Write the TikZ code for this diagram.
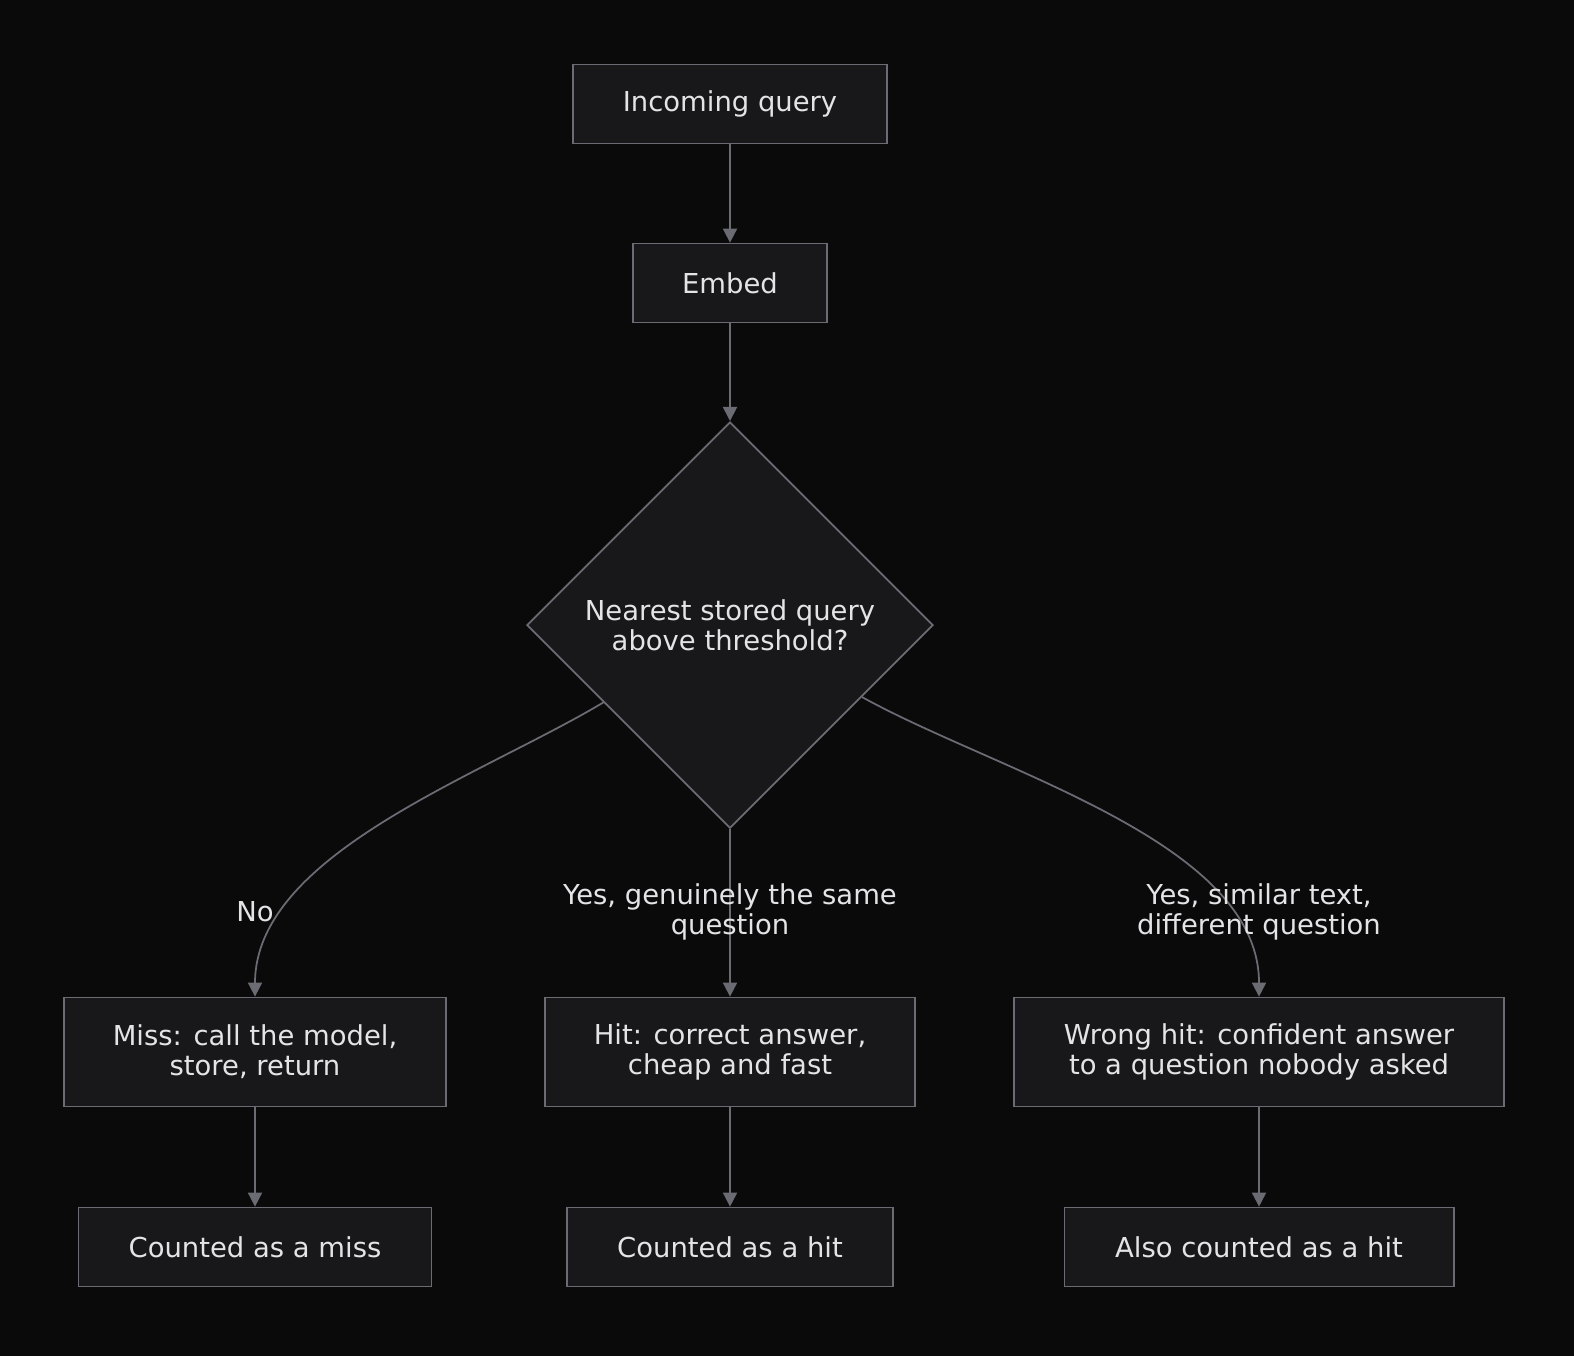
\documentclass[tikz,border=0pt]{standalone}
\usepackage{fontspec}
\setmainfont{DejaVu Sans}
\usetikzlibrary{shapes.geometric,arrows.meta}

\definecolor{bgcol}{HTML}{0A0A0B}
\definecolor{boxfill}{HTML}{18181B}
\definecolor{boxline}{HTML}{6B6B73}
\definecolor{txt}{HTML}{E4E4E7}

\tikzset{
  box/.style={draw=boxline,fill=boxfill,text=txt,line width=0.5pt,
    align=center,inner sep=0pt,font=\fontsize{7.8}{8.6}\selectfont},
  dec/.style={box,diamond,aspect=1,minimum width=4.06cm,minimum height=4.06cm},
  lbl/.style={text=txt,align=center,inner sep=0pt,font=\fontsize{7.8}{8.6}\selectfont},
  flow/.style={draw=boxline,line width=0.5pt,-{Triangle[width=4pt,length=4pt]}}
}

\begin{document}
\begin{tikzpicture}[x=0.01cm,y=-0.01cm]
\fill[bgcol] (0,0) rectangle (1574,1356);

% top chain
\node[box,minimum width=3.14cm,minimum height=0.79cm] (query) at (730,104) {Incoming query};
\node[box,minimum width=1.94cm,minimum height=0.79cm] (embed) at (730,283) {Embed};
\node[dec] (near) at (730,625) {Nearest stored query\\above threshold?};

% outcomes
\node[box,minimum width=3.82cm,minimum height=1.09cm] (miss) at (255,1052) {Miss: call the model,\\store, return};
\node[box,minimum width=3.70cm,minimum height=1.09cm] (hit) at (730,1052) {Hit: correct answer,\\cheap and fast};
\node[box,minimum width=4.90cm,minimum height=1.09cm] (wrong) at (1259,1052) {Wrong hit: confident answer\\to a question nobody asked};

% counters
\node[box,minimum width=3.53cm,minimum height=0.79cm] (cmiss) at (255,1247) {Counted as a miss};
\node[box,minimum width=3.26cm,minimum height=0.79cm] (chit) at (730,1247) {Counted as a hit};
\node[box,minimum width=3.89cm,minimum height=0.79cm] (calso) at (1259,1247) {Also counted as a hit};

\draw[flow] (604,702) to[out=211,in=90,looseness=0.8] (miss.north);
\draw[flow] (query) -- (embed);
\draw[flow] (embed) -- (near);
\draw[flow] (near) -- (hit);
\draw[flow] (862,697) to[out=-29,in=90,looseness=0.8] (wrong.north);
\draw[flow] (miss) -- (cmiss);
\draw[flow] (hit) -- (chit);
\draw[flow] (wrong) -- (calso);

\node[lbl] (lno) at (255,912) {No};
\node[lbl] (lsame) at (730,912) {Yes, genuinely the same\\question};
\node[lbl] (ldiff) at (1259,912) {Yes, similar text,\\different question};
\end{tikzpicture}
\end{document}
